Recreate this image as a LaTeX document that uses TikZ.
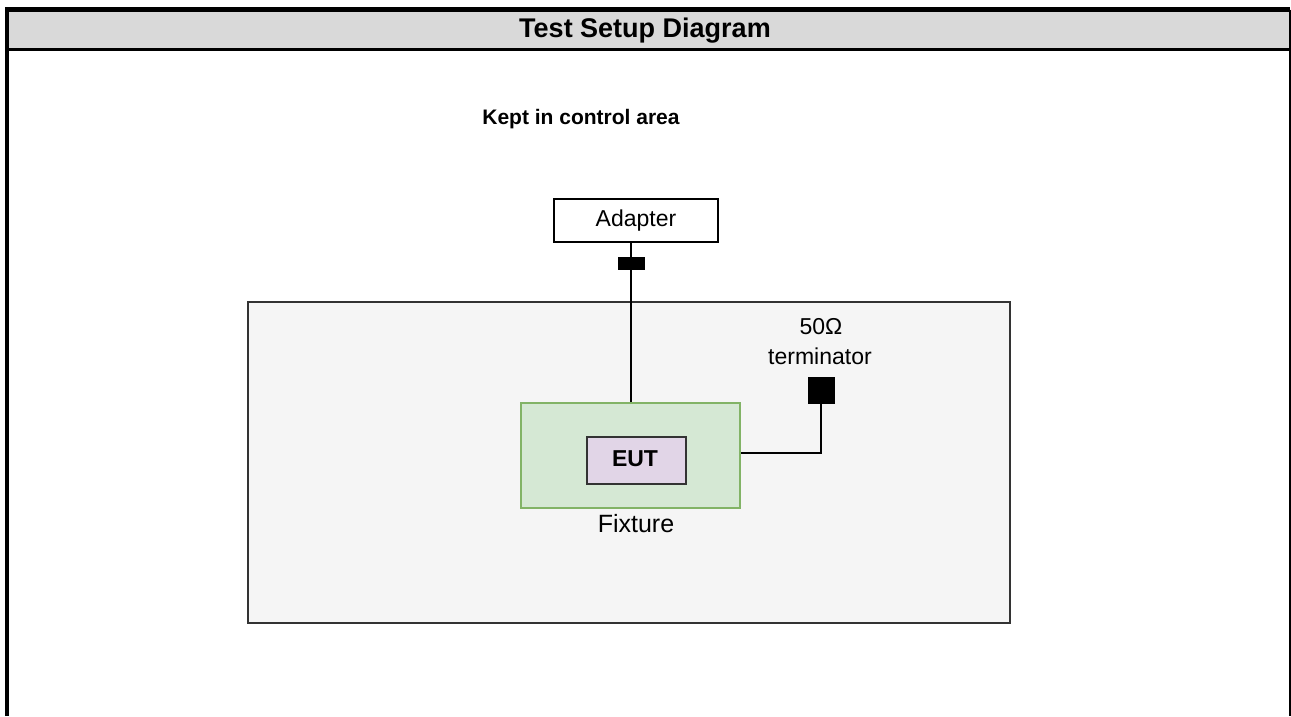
\documentclass[tikz,border=0pt]{standalone}
\usepackage{fontspec}
\setmainfont{Liberation Sans}
\definecolor{headgrey}{HTML}{D9D9D9}
\definecolor{areagrey}{HTML}{F5F5F5}
\definecolor{areaedge}{HTML}{333333}
\definecolor{fixfill}{HTML}{D5E8D4}
\definecolor{fixedge}{HTML}{82B366}
\definecolor{eutfill}{HTML}{E1D5E7}
\begin{document}
\begin{tikzpicture}[x=1pt,y=-1pt,
  txt/.style={inner sep=0pt, font=\fontsize{#1}{#1}\selectfont},
  btxt/.style={inner sep=0pt, font=\bfseries\fontsize{#1}{#1}\selectfont},
  block/.style={draw, inner sep=0pt, anchor=north west},
  wire/.style={line width=1.8pt, black},
  plugbox/.style={fill=black, draw=black, inner sep=0pt, minimum width=26pt, minimum height=12pt},
  termbox/.style={fill=black, draw=black, inner sep=0pt, minimum width=26pt, minimum height=26pt}]
\useasboundingbox (0,0) rectangle (1291,716);

% table frame and header
\fill[headgrey] (9,12) rectangle (1289,48);
\draw[line width=4.5pt] (7,716) -- (7,9.5) -- (1290,9.5);
\draw[line width=2pt] (1289.5,9.5) -- (1289.5,716);
\draw[line width=3pt] (9,49) -- (1289,49);
\node[btxt=27] (title) at (645,31) {Test Setup Diagram};

% control area
\node[btxt=21] (kept) at (581,119) {Kept in control area};
\node[block, fill=areagrey, draw=areaedge, line width=2pt, minimum width=762pt, minimum height=321pt] (area) at (247,301) {};

% equipment
\node[block, fill=white, line width=1.5pt, minimum width=164pt, minimum height=43pt] (adapter) at (553,198) {};
\node[txt=23] (adaptertext) at (636,221) {Adapter};
\node[block, fill=fixfill, draw=fixedge, line width=2pt, minimum width=219pt, minimum height=105pt] (fixture) at (520,402) {};
\node[block, fill=eutfill, draw=areaedge, line width=2pt, minimum width=99pt, minimum height=47pt] (eut) at (586,436) {};
\node[btxt=23] (euttext) at (635,459) {EUT};
\node[txt=25] (fixturetext) at (636,524) {Fixture};

% cable from adapter to fixture with inline plug
\coordinate (plugc) at (631,263);
\draw[wire] (plugc |- adapter.south) -- (plugc |- fixture.north);
\node[plugbox] (plug) at (plugc) {};

% 50 ohm terminator
\node[termbox] (term) at (821,390) {};
\node[txt=23] (ohm) at (821,327) {50Ω};
\node[txt=23] (termtext) at (820,356) {terminator};
\draw[wire] (term.south) |- ([yshift=2.5pt]fixture.east);
\end{tikzpicture}
\end{document}
